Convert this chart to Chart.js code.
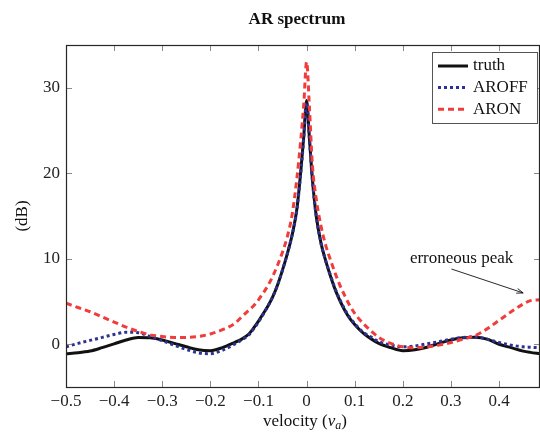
<!DOCTYPE html>
<html>
<head>
<meta charset="utf-8">
<script src="https://cdn.jsdelivr.net/npm/chart.js@4/dist/chart.umd.min.js"></script>
<style>
  html, body { margin: 0; padding: 0; background: #fff; }
  #wrap { width: 540px; height: 443px; position: relative; }
</style>
</head>
<body>
<div id="wrap"><canvas id="chart-ar-spectrum" width="540" height="443"></canvas></div>
<script>
// velocity grid (v_a) and spectra in dB
const velocity = [-0.5, -0.475, -0.45, -0.425, -0.4, -0.375, -0.35, -0.325, -0.3, -0.275, -0.25, -0.225,
  -0.2, -0.175, -0.15, -0.135, -0.12, -0.11, -0.1, -0.09, -0.08, -0.07, -0.06, -0.05,
  -0.04, -0.03, -0.02, -0.012, -0.006, 0, 0.006, 0.012, 0.02, 0.03, 0.04, 0.05,
  0.06, 0.07, 0.08, 0.09, 0.1, 0.11, 0.12, 0.135, 0.15, 0.175, 0.2, 0.225,
  0.25, 0.275, 0.3, 0.325, 0.35, 0.375, 0.4, 0.425, 0.45, 0.465, 0.485];
const truthDb = [-1.1, -1.0, -0.8, -0.4, 0.05, 0.5, 0.8, 0.75, 0.5, 0.1, -0.3, -0.65,
  -0.75, -0.4, 0.2, 0.6, 1.2, 1.9, 2.7, 3.6, 4.5, 5.6, 7.0, 8.7,
  10.6, 12.8, 15.9, 20.3, 24.3, 28.5, 24.0, 19.3, 15.0, 11.8, 9.7, 7.9,
  6.3, 5.0, 3.9, 3.0, 2.3, 1.7, 1.2, 0.6, 0.1, -0.4, -0.75, -0.65,
  -0.35, 0.1, 0.5, 0.75, 0.82, 0.6, 0.0, -0.4, -0.8, -0.95, -1.1];
const aroffDb = [-0.3, 0.1, 0.45, 0.8, 1.15, 1.4, 1.35, 0.9, 0.4, -0.1, -0.6, -1.0,
  -1.1, -0.7, 0.0, 0.5, 1.1, 1.8, 2.6, 3.5, 4.5, 5.6, 7.0, 8.7,
  10.6, 12.8, 15.8, 20.1, 24.0, 28.2, 23.8, 19.2, 15.0, 11.8, 9.7, 8.0,
  6.4, 5.1, 4.0, 3.1, 2.4, 1.8, 1.3, 0.8, 0.3, -0.1, -0.3, -0.2,
  0.05, 0.3, 0.6, 0.8, 0.85, 0.6, 0.2, -0.1, -0.3, -0.35, -0.4];
const aronDb = [4.8, 4.3, 3.8, 3.2, 2.6, 2.0, 1.5, 1.1, 0.9, 0.8, 0.8, 0.9,
  1.2, 1.7, 2.4, 3.2, 4.0, 4.5, 5.2, 6.0, 6.9, 8.0, 9.3, 10.8,
  12.6, 15.2, 19.5, 24.0, 28.0, 33.0, 27.5, 21.0, 17.0, 13.8, 11.5, 9.8,
  8.2, 6.8, 5.6, 4.5, 3.6, 2.9, 2.3, 1.5, 0.8, 0.1, -0.3, -0.4,
  -0.3, -0.1, 0.2, 0.6, 1.0, 1.8, 2.8, 3.8, 4.7, 5.1, 5.2];

const xTicks = [-0.5, -0.4, -0.3, -0.2, -0.1, 0, 0.1, 0.2, 0.3, 0.4];
const yTicks = [0, 10, 20, 30];

const SERIF = '"Liberation Serif", "DejaVu Serif", serif';

/**
 * pgfplots-like decorations: frame, inward ticks, titles, legend, annotation
 */
const decorPlugin = {
  id: 'decor',
  afterDatasetsDraw(chart) {
    const { ctx, chartArea: a, scales } = chart;
    const x = scales.x;
    const y = scales.y;
    ctx.save();

    // inward ticks on all four sides
    ctx.strokeStyle = '#8a8a8a';
    ctx.lineWidth = 1;
    ctx.beginPath();
    xTicks.forEach((t) => {
      const px = Math.round(x.getPixelForValue(t)) + 0.5;
      ctx.moveTo(px, a.bottom); ctx.lineTo(px, a.bottom - 6);
      ctx.moveTo(px, a.top); ctx.lineTo(px, a.top + 6);
    });
    yTicks.forEach((t) => {
      const py = Math.round(y.getPixelForValue(t)) + 0.5;
      ctx.moveTo(a.left, py); ctx.lineTo(a.left + 6, py);
      ctx.moveTo(a.right, py); ctx.lineTo(a.right - 6, py);
    });
    ctx.stroke();

    // frame
    ctx.strokeStyle = '#262626';
    ctx.lineWidth = 1.2;
    ctx.strokeRect(a.left + 0.5, a.top + 0.5, a.right - a.left - 1, a.bottom - a.top);

    // annotation
    const ax0 = x.getPixelForValue(0.301), ay0 = y.getPixelForValue(8.8);
    const ax1 = x.getPixelForValue(0.45), ay1 = y.getPixelForValue(6.0);
    ctx.strokeStyle = '#111';
    ctx.fillStyle = '#111';
    ctx.lineWidth = 0.9;
    ctx.beginPath();
    ctx.moveTo(ax0, ay0); ctx.lineTo(ax1, ay1);
    ctx.stroke();
    const ang = Math.atan2(ay1 - ay0, ax1 - ax0);
    ctx.beginPath();
    ctx.moveTo(ax1, ay1);
    ctx.lineTo(ax1 - 7 * Math.cos(ang - 0.35), ay1 - 7 * Math.sin(ang - 0.35));
    ctx.moveTo(ax1, ay1);
    ctx.lineTo(ax1 - 7 * Math.cos(ang + 0.35), ay1 - 7 * Math.sin(ang + 0.35));
    ctx.stroke();
    ctx.font = `17px ${SERIF}`;
    ctx.textAlign = 'center';
    ctx.textBaseline = 'middle';
    ctx.fillText('erroneous peak', x.getPixelForValue(0.322), y.getPixelForValue(10.0));

    // legend
    const lx = 432, ly = 52, lw = 105, lh = 71;
    ctx.fillStyle = '#fff';
    ctx.fillRect(lx, ly, lw, lh);
    ctx.strokeStyle = '#555';
    ctx.lineWidth = 1;
    ctx.strokeRect(lx + 0.5, ly + 0.5, lw, lh);
    chart.data.datasets.forEach((ds, i) => {
      const rowY = ly + 14 + i * 21.6;
      ctx.strokeStyle = ds.borderColor;
      ctx.lineWidth = ds.borderWidth;
      ctx.setLineDash(ds.borderDash || []);
      ctx.beginPath();
      ctx.moveTo(438, rowY); ctx.lineTo(468, rowY);
      ctx.stroke();
      ctx.setLineDash([]);
      ctx.fillStyle = '#111';
      ctx.textAlign = 'left';
      ctx.textBaseline = 'middle';
      ctx.font = `17px ${SERIF}`;
      ctx.fillText(ds.label, 473, rowY);
    });

    // title
    ctx.fillStyle = '#111';
    ctx.textAlign = 'center';
    ctx.textBaseline = 'middle';
    ctx.font = `bold 17px ${SERIF}`;
    ctx.fillText('AR spectrum', 297, 20);

    // y title
    ctx.save();
    ctx.translate(23, (a.top + a.bottom) / 2);
    ctx.rotate(-Math.PI / 2);
    ctx.font = `17px ${SERIF}`;
    ctx.fillText('(dB)', 0, 0);
    ctx.restore();

    // x title: velocity (v_a)
    const cy = 422;
    const parts = [
      { t: 'velocity (', f: `17px ${SERIF}`, dy: 0 },
      { t: 'v', f: `italic 17px ${SERIF}`, dy: 0 },
      { t: 'a', f: `italic 12px ${SERIF}`, dy: 4 },
      { t: ')', f: `17px ${SERIF}`, dy: 0 },
    ];
    let total = 0;
    parts.forEach((p) => { ctx.font = p.f; p.w = ctx.measureText(p.t).width; total += p.w; });
    let cx = 305 - total / 2;
    ctx.textAlign = 'left';
    parts.forEach((p) => {
      ctx.font = p.f;
      ctx.fillText(p.t, cx, cy + p.dy);
      cx += p.w;
    });

    ctx.restore();
  },
};

function toPoints(values) {
  return velocity.map((v, i) => ({ x: v, y: values[i] }));
}

function fmt(v, digits) {
  if (v === 0) return '0';
  return (v < 0 ? '\u2212' : '') + Math.abs(v).toFixed(digits);
}

const canvas = document.getElementById('chart-ar-spectrum');
new Chart(canvas, {
  type: 'line',
  data: {
    datasets: [
      {
        label: 'truth',
        data: toPoints(truthDb),
        borderColor: '#111111',
        borderWidth: 3,
        order: 3,
      },
      {
        label: 'AROFF',
        data: toPoints(aroffDb),
        borderColor: '#2d3194',
        borderWidth: 3,
        borderDash: [3, 3],
        order: 2,
      },
      {
        label: 'ARON',
        data: toPoints(aronDb),
        borderColor: '#f03c3c',
        borderWidth: 3,
        borderDash: [6, 4],
        order: 1,
      },
    ],
  },
  options: {
    responsive: false,
    animation: false,
    elements: {
      point: { radius: 0 },
      line: { cubicInterpolationMode: 'monotone', fill: false },
    },
    layout: { padding: { top: 45, right: 0, left: 0, bottom: 0 } },
    plugins: {
      legend: { display: false },
      title: { display: false },
      tooltip: { enabled: false },
    },
    scales: {
      x: {
        type: 'linear',
        min: -0.5,
        max: 0.485,
        afterFit: (scale) => { scale.height = 56; },
        afterBuildTicks: (scale) => { scale.ticks = xTicks.map((v) => ({ value: v })); },
        grid: { display: false, drawTicks: false },
        border: { display: false },
        ticks: {
          color: '#222',
          padding: 4,
          maxRotation: 0,
          autoSkip: false,
          font: { family: SERIF, size: 17 },
          callback: (v) => fmt(v, 1),
        },
      },
      y: {
        type: 'linear',
        min: -5,
        max: 35,
        afterFit: (scale) => { scale.width = 66; },
        afterBuildTicks: (scale) => { scale.ticks = yTicks.map((v) => ({ value: v })); },
        grid: { display: false, drawTicks: false },
        border: { display: false },
        ticks: {
          color: '#222',
          padding: 6,
          font: { family: SERIF, size: 17 },
          callback: (v) => fmt(v, 0),
        },
      },
    },
  },
  plugins: [decorPlugin],
});
</script>
</body>
</html>
